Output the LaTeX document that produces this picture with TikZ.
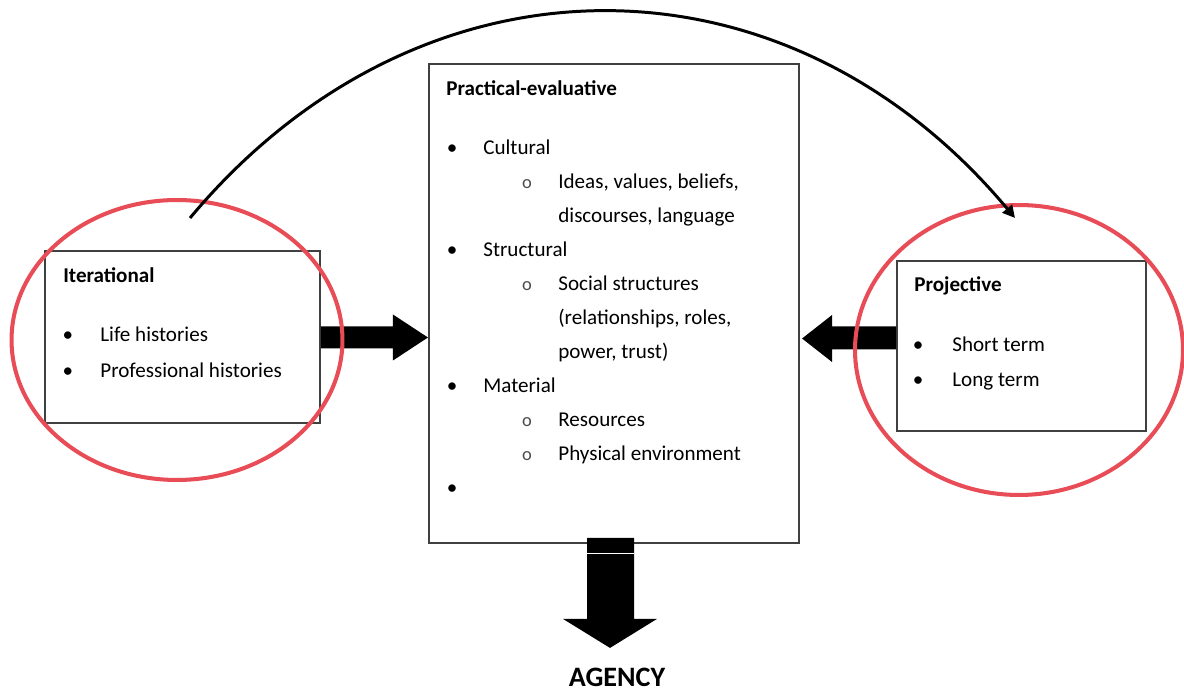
\documentclass[tikz,border=0pt]{standalone}
\usepackage{fontspec}
\setmainfont{Carlito}
\usetikzlibrary{shapes.geometric,arrows.meta}
\definecolor{ringred}{RGB}{232,76,87}

\begin{document}
\begin{tikzpicture}[x=0.02cm, y=-0.02cm,
    box/.style={draw=black!75, line width=1.1pt, inner sep=0pt},
    ring/.style={draw=ringred, line width=2.3pt, ellipse, inner sep=0pt}]
  \tikzstyle{word} = [font=\fontsize{12}{14}\selectfont, anchor=base west, inner sep=0pt]
  \tikzstyle{head} = [word, font=\fontsize{12}{14}\selectfont\bfseries]
  \tikzstyle{dot} = [word, anchor=base]
  \tikzstyle{sub} = [dot, font=\fontsize{10.5}{12}\selectfont, text=black!70]
  \useasboundingbox (0,0) rectangle (1184,692);

  % the three boxes
  \node (iter) [box, minimum width=5.5cm, minimum height=3.44cm] at (182.5,337) {};
  \node (centre) [box, minimum width=7.4cm, minimum height=9.58cm] at (614,303.5) {};
  \node (proj) [box, minimum width=4.98cm, minimum height=3.4cm] at (1021.5,346) {};

  % iterational
  \node (iterhead) [head] at (63,283) {Iterational};
  \node (iterdot1) [dot] at (68,342) {•};
  \node (life) [word] at (100,342) {Life histories};
  \node (iterdot2) [dot] at (68,378) {•};
  \node (prof) [word] at (100,378) {Professional histories};

  % practical-evaluative
  \node (centrehead) [head] at (446,96) {Practical-evaluative};
  \node (dot1) [dot] at (452,155) {•};
  \node (cultural) [word] at (483,155) {Cultural};
  \node (sub1) [sub] at (527,189) {o};
  \node (ideas) [word] at (558,189) {Ideas, values, beliefs,};
  \node (disc) [word] at (558,223) {discourses, language};
  \node (dot2) [dot] at (452,257) {•};
  \node (structural) [word] at (483,257) {Structural};
  \node (sub2) [sub] at (527,291) {o};
  \node (social) [word] at (558,291) {Social structures};
  \node (rel) [word] at (558,325) {(relationships, roles,};
  \node (power) [word] at (558,359) {power, trust)};
  \node (dot3) [dot] at (452,393) {•};
  \node (material) [word] at (483,393) {Material};
  \node (sub3) [sub] at (527,427) {o};
  \node (res) [word] at (558,427) {Resources};
  \node (sub4) [sub] at (527,461) {o};
  \node (phys) [word] at (558,461) {Physical environment};
  \node (dot4) [dot] at (452,495) {•};

  % projective
  \node (projhead) [head] at (914,292) {Projective};
  \node (projdot1) [dot] at (918,352) {•};
  \node (short) [word] at (952,352) {Short term};
  \node (projdot2) [dot] at (918,387) {•};
  \node (long) [word] at (952,387) {Long term};

  % block arrows
  \fill (iter.east) ++(0,-10.5) -- ++(72,0) -- ++(0,-12) -- ++(35,23) -- ++(-35,23)
    -- ++(0,-12) -- ++(-72,0) -- cycle;
  \fill (proj.west) ++(0,-19.5) -- ++(-64,0) -- ++(0,-11.5) -- ++(-30,23.5) -- ++(30,23.5)
    -- ++(0,-12.5) -- ++(64,0) -- cycle;
  \fill (centre.south) ++(-27,-6) -- ++(47,0) -- ++(0,81) -- ++(23,0) -- ++(-47,29)
    -- ++(-47,-29) -- ++(24,0) -- cycle;
  \draw[white, line width=0.6pt] (centre.south) ++(-27,10) -- ++(47,0);
  \node (agency) [font=\fontsize{16}{18}\selectfont\bfseries, anchor=base, inner sep=0pt] at (617,686) {AGENCY};

  % red rings
  \node (iterring) [ring, minimum width=6.62cm, minimum height=5.6cm] at (177,340) {};
  \node (projring) [ring, minimum width=6.56cm, minimum height=5.8cm] at (1019,350) {};

  % the arc over the top
  \coordinate (loopstart) at (190,218);
  \coordinate (loopend) at (1015,218);
  \draw[line width=1.7pt, -{Triangle[length=7pt,width=7pt]}]
    (loopstart) .. controls (420,-57) and (785,-57) .. (loopend);
\end{tikzpicture}
\end{document}
